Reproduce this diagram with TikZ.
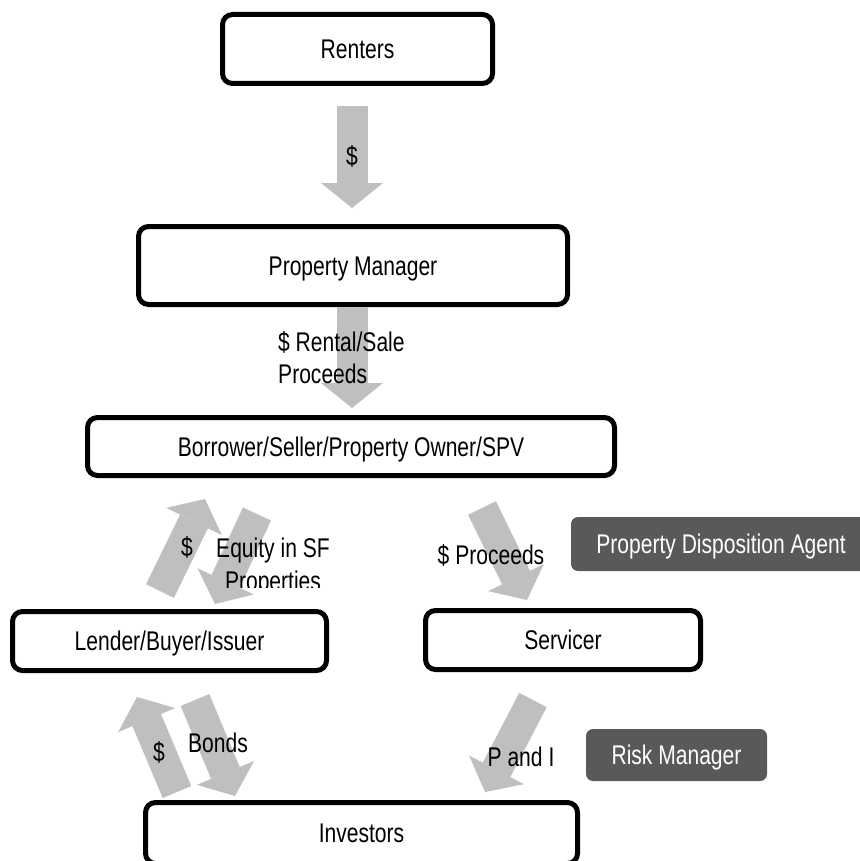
\documentclass[tikz,border=0pt]{standalone}
\usepackage{fontspec}
\newfontfamily\narrowfont{Liberation Sans}[FakeStretch=0.78]
\usetikzlibrary{arrows.meta}
\definecolor{flowgray}{HTML}{BFBFBF}
\definecolor{agentgray}{HTML}{595959}

\begin{document}
\begin{tikzpicture}[x=1pt,y=-1pt,
  font=\narrowfont\fontsize{27}{32}\selectfont,
  party/.style={draw,line width=5pt,rounded corners=10pt,inner sep=0pt,text height=19pt,text depth=0pt},
  agent/.style={fill=agentgray,text=white,rounded corners=7pt,inner sep=0pt,text height=19pt,text depth=0pt},
  flow/.style={draw=flowgray,line width=31pt,-{Triangle[width=62pt,length=25pt,line width=0pt]}},
  lbl/.style={inner sep=0pt}]
\useasboundingbox (0,0) rectangle (859,861);

\node[party,minimum width=270pt,minimum height=69pt] (renters) at (357.5,49) {Renters};
\node[party,minimum width=429pt,minimum height=78pt] (manager) at (353,265.5) {Property Manager};
\node[party,minimum width=527pt,minimum height=58pt] (owner) at (351,446.5) {Borrower/Seller/Property Owner/SPV};
\node[party,minimum width=314pt,minimum height=59pt] (lender) at (169.5,641) {Lender/Buyer/Issuer};
\node[party,minimum width=275pt,minimum height=59pt] (servicer) at (563,640) {Servicer};
\node[party,minimum width=432pt,minimum height=61pt] (investors) at (361.5,833) {Investors};
\node[agent,minimum width=300pt,minimum height=54pt] (dispo) at (721,544) {Property Disposition Agent};
\node[agent,minimum width=181pt,minimum height=52pt] (risk) at (676.5,755) {Risk Manager};

% money flows
\foreach \name/\x/\y in {rt/352/106, rh/352/208, mt/352/307, mh/352/408,
  ut/160/591, uh/205/499, dt/257/514, dh/215/604, pt/482/508, ph/527/600,
  bt/177/792, bh/137/697, ot/195/700, oh/235/796, it/533/700, ih/485/792}
  \coordinate (\name) at (\x,\y);
\foreach \a/\b in {rt/rh, mt/mh, ut/uh, dt/dh, pt/ph, bt/bh, ot/oh, it/ih}
  \draw[flow] (\a) -- (\b);

\node[lbl] (rentcash) at (352,156) {\$};
\node[lbl,align=left,anchor=west] (rentlbl) at (278,358) {\$ Rental/Sale\\Proceeds};
\node[lbl] (eqcash) at (187,547) {\$};
\begin{scope}
\clip (200,520) rectangle (360,587);
\node[lbl,align=center,font=\narrowfont\fontsize{27}{33}\selectfont] (equity) at (273,567) {Equity in SF\\Properties};
\end{scope}
\node[lbl] (proceeds) at (491,555) {\$ Proceeds};
\node[lbl] (bondcash) at (159,752) {\$};
\node[lbl] (bonds) at (218,743) {Bonds};
\node[lbl] (pandi) at (521,757) {P and I};

\end{tikzpicture}
\end{document}
